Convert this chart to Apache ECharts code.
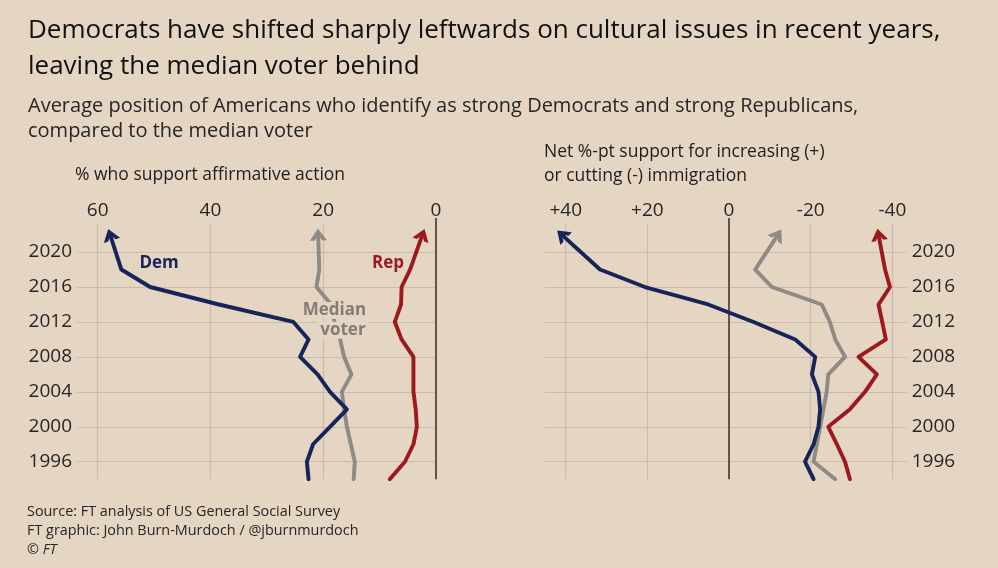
<!DOCTYPE html>
<html><head><meta charset="utf-8">
<script src="https://cdn.jsdelivr.net/npm/echarts@6/dist/echarts.min.js"></script>
<style>html,body{margin:0;padding:0;background:#e5d5c3}#c{width:998px;height:568px}</style>
</head><body><div id="c"></div>
<script>
// ---- data ----
const years = [1994,1996,1998,2000,2002,2004,2006,2008,2010,2012,2014,2016,2018,2022];
const demAffirm    = [22.6,22.9,21.8,18.8,15.8,18.8,21.0,24.1,22.6,25.3,38.5,50.7,55.8,57.8];
const medianAffirm = [14.6,14.4,15.1,15.8,16.3,16.7,15.0,16.3,17.0,18.0,18.6,21.2,20.7,20.9];
const repAffirm    = [8.2,5.5,4.0,3.4,3.6,4.0,4.0,4.0,6.1,7.3,6.2,6.1,4.6,2.4];
const demImmig     = [-20.7,-18.6,-20.7,-21.9,-22.3,-21.9,-20.3,-21.1,-16.2,-6.0,5.1,20.6,31.6,41.0];
const medianImmig  = [-26.0,-20.7,-21.5,-22.3,-23.1,-23.9,-24.3,-28.4,-26.0,-24.7,-22.7,-10.5,-6.4,-12.0];
const repImmig     = [-29.6,-28.4,-26.4,-24.3,-29.6,-33.3,-36.2,-31.7,-38.4,-37.5,-36.6,-39.4,-38.2,-36.6];
const affirmTicks = [60,40,20,0];
const affirmTickLabels = ['60','40','20','0'];
const immigTicks = [40,20,0,-20,-40];
const immigTickLabels = ['+40','+20','0','-20','-40'];
const yearTicks = [1996,2000,2004,2008,2012,2016,2020];
const yearTickLabels = ['1996','2000','2004','2008','2012','2016','2020'];

// ---- style ----
const FONT = 'Open Sans';
const BG = '#e5d5c3';
const NAVY = '#17245a';
const RED = '#9c1a1f';
const GRAY = '#8f8a83';
const GRID = '#c9bcad';
const ZERO = '#5e554d';
const TXT = '#262626';
const ARROW = 'path://M0,10 L8,0 L16,10 L11.6,10 L8,5.2 L4.4,10 Z';

const Y_MIN = 1994, Y_TOP = 2023.3, Y_MAX = 2023.9;
const AFF_MIN = 0, AFF_MAX = 63.67;
const IMM_MIN = -43.5, IMM_MAX = 45.07;

const chart = echarts.init(document.getElementById('c'), null, {renderer:'canvas'});

function gridSeries(g, xLeft, xRight, xTicks, xLabels, yLabelPos) {
  const items = [];
  yearTicks.forEach((y, i) => {
    items.push([
      {coord:[xLeft, y], lineStyle:{color:GRID, width:1.2, type:'solid'},
       label:{show:true, position:yLabelPos, formatter:yearTickLabels[i], color:TXT, fontFamily:FONT, fontSize:19, distance:5}},
      {coord:[xRight, y]}
    ]);
  });
  xTicks.forEach((v, i) => {
    items.push([
      {coord:[v, Y_TOP], lineStyle:{color:GRID, width:1.2, type:'solid'},
       label:{show:true, position:'start', formatter:xLabels[i], color:TXT, fontFamily:FONT, fontSize:19, distance:3}},
      {coord:[v, Y_MIN]}
    ]);
  });
  items.push([
    {coord:[0, Y_MAX], lineStyle:{color:ZERO, width:2, type:'solid'}, label:{show:false}},
    {coord:[0, Y_MIN]}
  ]);
  return {
    type:'line', xAxisIndex:g, yAxisIndex:g, data:[], silent:true, animation:false,
    markLine:{silent:true, symbol:['none','none'], z:1, animation:false, data:items}
  };
}

function lineSeries(g, xs, color, rot, z, marks) {
  const data = years.map((y, i) => [xs[i], y]);
  const n = data.length;
  data[n-1] = {value:data[n-1], symbol:ARROW, symbolSize:[17,12], symbolRotate:rot,
               itemStyle:{color:color}};
  const s = {
    type:'line', xAxisIndex:g, yAxisIndex:g, data:data, symbol:'none', showSymbol:true,
    lineStyle:{color:color, width:3.9, cap:'round', join:'round'}, itemStyle:{color:color},
    z:z, silent:true, animation:false
  };
  if (marks) s.markPoint = {silent:true, z:10, animation:false, symbol:'circle', symbolSize:1,
    itemStyle:{color:'rgba(0,0,0,0)'}, data:marks};
  return s;
}

function mark(x, y, text, color, bg) {
  return {coord:[x, y], label:{show:true, position:'inside', formatter:text, color:color,
    fontFamily:FONT, fontSize:17, fontWeight:'bold', backgroundColor:bg || 'transparent', padding:bg ? [0,3] : 0}};
}

const seriesDefs = [
  {g:0, xs:repAffirm, c:RED, z:3, marks:[mark(8.5, 2018.7, 'Rep', RED)]},
  {g:0, xs:medianAffirm, c:GRAY, z:4, marks:[mark(18.0, 2013.3, 'Median', '#837d76', BG), mark(16.5, 2011.05, 'voter', '#837d76', BG)]},
  {g:0, xs:demAffirm, c:NAVY, z:5, marks:[mark(49.1, 2018.7, 'Dem', NAVY)]},
  {g:1, xs:repImmig, c:RED, z:3},
  {g:1, xs:medianImmig, c:GRAY, z:4},
  {g:1, xs:demImmig, c:NAVY, z:5}
];

function buildOption(rots) {
  const series = [
    gridSeries(0, AFF_MAX, AFF_MIN, affirmTicks, affirmTickLabels, 'start'),
    gridSeries(1, IMM_MAX, IMM_MIN, immigTicks, immigTickLabels, 'end')
  ];
  seriesDefs.forEach((d, i) => series.push(lineSeries(d.g, d.xs, d.c, rots[i], d.z, d.marks)));
  return {
    backgroundColor: BG,
    animation:false,
    title: [
      {text:'Democrats have shifted sharply leftwards on cultural issues in recent years,\nleaving the median voter behind',
       left:28, top:13, padding:0,
       textStyle:{fontFamily:FONT, fontSize:26, fontWeight:500, color:'#111111', lineHeight:36}},
      {text:'Average position of Americans who identify as strong Democrats and strong Republicans,\ncompared to the median voter',
       left:28, top:93.5, padding:0,
       textStyle:{fontFamily:FONT, fontSize:20, fontWeight:'normal', color:TXT, lineHeight:25}},
      {text:'% who support affirmative action', left:75, top:165, padding:0,
       textStyle:{fontFamily:FONT, fontSize:17.5, fontWeight:'normal', color:'#1e1e1e', lineHeight:20}},
      {text:'Net %-pt support for increasing (+)\nor cutting (-) immigration', left:544, top:140, padding:0,
       textStyle:{fontFamily:FONT, fontSize:17.5, fontWeight:'normal', color:'#1e1e1e', lineHeight:24}},
      {text:'Source: FT analysis of US General Social Survey\nFT graphic: John Burn-Murdoch / @jburnmurdoch\n© {i|FT}',
       left:27, top:502.5, padding:0,
       textStyle:{fontFamily:FONT, fontSize:14.4, fontWeight:'normal', color:TXT, lineHeight:19,
         rich:{i:{fontFamily:FONT, fontSize:14.4, fontStyle:'italic', color:TXT, lineHeight:19}}}}
    ],
    grid: [
      {left:77, width:359, top:218, bottom:88.8},
      {left:545, width:361.7, top:218, bottom:88.8}
    ],
    xAxis: [
      {type:'value', gridIndex:0, inverse:true, min:AFF_MIN, max:AFF_MAX, show:false},
      {type:'value', gridIndex:1, inverse:true, min:IMM_MIN, max:IMM_MAX, show:false}
    ],
    yAxis: [
      {type:'value', gridIndex:0, min:Y_MIN, max:Y_MAX, show:false},
      {type:'value', gridIndex:1, min:Y_MIN, max:Y_MAX, show:false}
    ],
    series: series
  };
}

chart.setOption(buildOption(seriesDefs.map(() => 0)));
// compute arrow rotations from the last segment, via the chart's own scales
const rots = seriesDefs.map((d) => {
  const n = years.length;
  const p1 = chart.convertToPixel({xAxisIndex:d.g, yAxisIndex:d.g}, [d.xs[n-2], years[n-2]]);
  const p2 = chart.convertToPixel({xAxisIndex:d.g, yAxisIndex:d.g}, [d.xs[n-1], years[n-1]]);
  const cw = Math.atan2(p2[0]-p1[0], -(p2[1]-p1[1])) * 180 / Math.PI;
  return -cw;
});
chart.setOption(buildOption(rots), true);
</script>
</body></html>
